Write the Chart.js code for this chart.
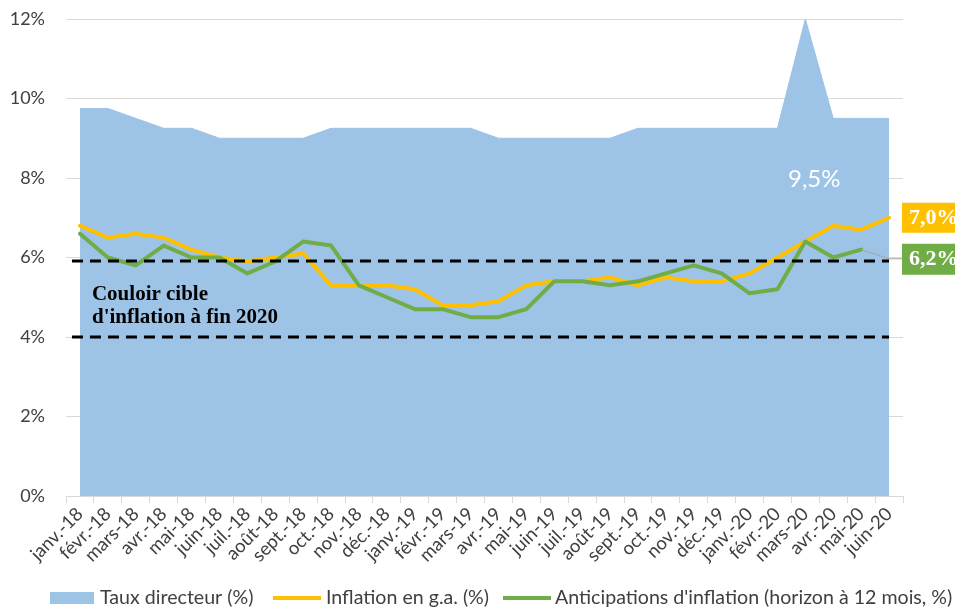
<!DOCTYPE html>
<html>
<head>
<meta charset="utf-8">
<script src="https://cdn.jsdelivr.net/npm/chart.js@4.4.1/dist/chart.umd.min.js"></script>
<style>
html,body{margin:0;padding:0;background:#fff;}
#wrap{width:955px;height:607px;}
</style>
</head>
<body>
<div id="wrap"><canvas id="c" width="955" height="607"></canvas></div>
<script>
const categories = ['janv.-18','févr.-18','mars-18','avr.-18','mai-18','juin-18','juil.-18','août-18','sept.-18','oct.-18','nov.-18','déc.-18',
  'janv.-19','févr.-19','mars-19','avr.-19','mai-19','juin-19','juil.-19','août-19','sept.-19','oct.-19','nov.-19','déc.-19',
  'janv.-20','févr.-20','mars-20','avr.-20','mai-20','juin-20'];
const tauxDirecteur = [9.75,9.75,9.5,9.25,9.25,9.0,9.0,9.0,9.0,9.25,9.25,9.25,
  9.25,9.25,9.25,9.0,9.0,9.0,9.0,9.0,9.25,9.25,9.25,9.25,
  9.25,9.25,12.0,9.5,9.5,9.5];
const inflation = [6.8,6.5,6.6,6.5,6.2,6.0,5.9,6.0,6.1,5.3,5.3,5.3,
  5.2,4.8,4.8,4.9,5.3,5.4,5.4,5.5,5.3,5.5,5.4,5.4,
  5.6,6.0,6.4,6.8,6.7,7.0];
const anticipations = [6.6,6.0,5.8,6.3,6.0,6.0,5.6,5.9,6.4,6.3,5.3,5.0,
  4.7,4.7,4.5,4.5,4.7,5.4,5.4,5.3,5.4,5.6,5.8,5.6,
  5.1,5.2,6.4,6.0,6.2,null];
const corridor = [5.9, 4.0];
const yTicks = [0,2,4,6,8,10,12];
const seriesNames = ['Taux directeur (%)','Inflation en g.a. (%)',"Anticipations d'inflation (horizon à 12 mois, %)"];
const colors = {taux:'#9DC3E6', infl:'#FFC000', antic:'#70AD47'};

const FONT = 'Lato, "Open Sans", sans-serif';
const SERIF = '"Liberation Serif", "DejaVu Serif", serif';

const annot = {
  id:'annot',
  afterDatasetsDraw(chart){
    const ctx = chart.ctx, xs = chart.scales.x, ys = chart.scales.y;
    const x0 = xs.getPixelForValue(0) - 8, x1 = xs.getPixelForValue(categories.length-1);
    ctx.save();
    ctx.strokeStyle = '#000'; ctx.lineWidth = 3; ctx.setLineDash([11,7]);
    corridor.forEach(v=>{
      const y = Math.round(ys.getPixelForValue(v));
      ctx.beginPath(); ctx.moveTo(x0,y); ctx.lineTo(x1,y); ctx.stroke();
    });
    ctx.setLineDash([]);
    ctx.fillStyle = '#000'; ctx.font = 'bold 21px ' + SERIF; ctx.textAlign='left'; ctx.textBaseline='alphabetic';
    const tx = xs.getPixelForValue(0) + 12;
    const ty = ys.getPixelForValue(corridor[0]) + 39;
    ctx.fillText('Couloir cible', tx, ty);
    ctx.fillText("d'inflation à fin 2020", tx, ty + 23);
    const last = tauxDirecteur[tauxDirecteur.length-1];
    ctx.fillStyle = '#fff'; ctx.font = '24px ' + FONT; ctx.textAlign='center';
    ctx.fillText(last.toFixed(1).replace('.',',') + '%', xs.getPixelForValue(27) - 19, ys.getPixelForValue(last) + 69);
    const bx = chart.chartArea.right - 1;
    const yInf = ys.getPixelForValue(inflation[inflation.length-1]);
    ctx.fillStyle = colors.infl; ctx.fillRect(bx, yInf - 15, 60, 30);
    const yAnt = yInf + 41;
    ctx.fillStyle = colors.antic; ctx.fillRect(bx, yAnt - 15, 60, 31);
    ctx.fillStyle = '#fff'; ctx.font = 'bold 22px ' + SERIF; ctx.textAlign='left'; ctx.textBaseline='middle';
    ctx.fillText(inflation[inflation.length-1].toFixed(1).replace('.',',') + '%', bx + 7, yInf + 1);
    let li = anticipations.length-1; while(anticipations[li]==null) li--;
    ctx.fillText(anticipations[li].toFixed(1).replace('.',',') + '%', bx + 7, yAnt + 1);
    ctx.strokeStyle = '#a6a6a6'; ctx.lineWidth = 1;
    ctx.beginPath();
    ctx.moveTo(xs.getPixelForValue(li), ys.getPixelForValue(anticipations[li]));
    ctx.lineTo(x1, yAnt); ctx.lineTo(bx, yAnt); ctx.stroke();
    ctx.restore();
  },
  afterDraw(chart){
    const ctx = chart.ctx;
    ctx.save();
    const y = 598;
    ctx.font = '19.6px ' + FONT; ctx.textBaseline='middle'; ctx.textAlign='left';
    ctx.fillStyle = colors.taux; ctx.fillRect(50, 592, 44, 12);
    ctx.fillStyle = '#404040'; ctx.fillText(seriesNames[0], 100, y);
    ctx.strokeStyle = colors.infl; ctx.lineWidth = 4; ctx.beginPath(); ctx.moveTo(273,y); ctx.lineTo(321,y); ctx.stroke();
    ctx.fillText(seriesNames[1], 326, y);
    ctx.strokeStyle = colors.antic; ctx.beginPath(); ctx.moveTo(503,y); ctx.lineTo(551,y); ctx.stroke();
    ctx.fillText(seriesNames[2], 555, y);
    ctx.restore();
  }
};

new Chart(document.getElementById('c'), {
  type:'line',
  data:{
    labels: categories,
    datasets:[
      {label:seriesNames[0], data:tauxDirecteur, fill:'origin', backgroundColor:colors.taux, borderColor:colors.taux, borderWidth:1, pointRadius:0, tension:0, order:3},
      {label:seriesNames[1], data:inflation, fill:false, borderColor:colors.infl, borderWidth:4, pointRadius:0, tension:0, order:1, borderJoinStyle:'round', borderCapStyle:'round'},
      {label:seriesNames[2], data:anticipations, fill:false, borderColor:colors.antic, borderWidth:4, pointRadius:0, tension:0, order:0, borderJoinStyle:'round', borderCapStyle:'round'}
    ]
  },
  options:{
    responsive:false, animation:false,
    layout:{padding:{left:0, top:19, right:52, bottom:0}},
    plugins:{legend:{display:false}, tooltip:{enabled:false}},
    scales:{
      x:{
        type:'category', offset:true,
        grid:{offset:true, drawOnChartArea:false, drawTicks:true, tickLength:7, color:'#d9d9d9'},
        border:{color:'#d9d9d9'},
        ticks:{autoSkip:false, maxRotation:45, minRotation:45, color:'#404040', padding:0, font:{family:FONT, size:18.5}},
        afterFit(s){ s.height = 111; s.paddingTop = 0; s.paddingBottom = 0; }
      },
      y:{
        min:0, max:12,
        afterBuildTicks(s){ s.ticks = yTicks.map(v=>({value:v})); },
        grid:{color:'#d9d9d9', drawTicks:false},
        border:{display:false},
        ticks:{padding:21, color:'#404040', font:{family:FONT, size:18}, callback:v=>v+'%'},
        afterFit(s){ s.width = 66; s.paddingTop = 0; s.paddingBottom = 0; }
      }
    }
  },
  plugins:[annot]
});
</script>
</body>
</html>
